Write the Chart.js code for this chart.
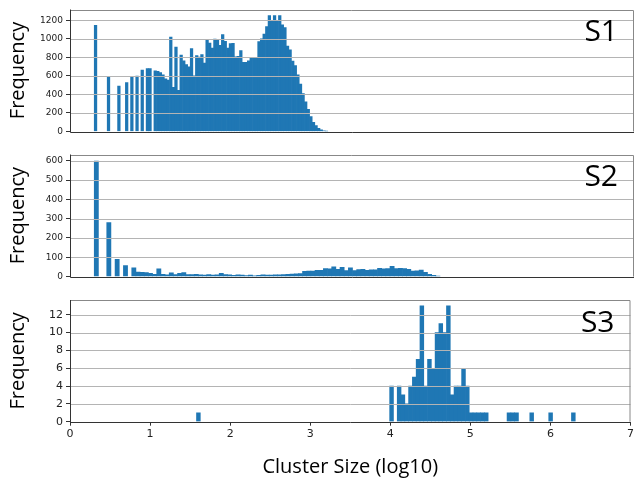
<!DOCTYPE html>
<html>
<head>
<meta charset="utf-8">
<script src="https://cdn.jsdelivr.net/npm/chart.js@4"></script>
<style>
  body { margin: 0; background: #fff; width: 636px; height: 481px; position: relative; overflow: hidden; }
  canvas { position: absolute; left: 0; }
</style>
</head>
<body>
<canvas id="c1" width="636" height="140" style="top:0px"></canvas>
<canvas id="c2" width="636" height="140" style="top:145px"></canvas>
<canvas id="c3" width="636" height="191" style="top:290px"></canvas>
<script>
// histogram bins (log10 cluster size), 100 bins per sample
const s1Start = 0.301, s1Width = 0.0322;
const s1Counts = [
  1145, 0, 0, 0, 0, 583, 0, 0, 0, 490,
  0, 0, 526, 0, 587, 0, 598, 0, 662, 0,
  677, 677, 0, 655, 648, 634, 612, 569, 554, 1019,
  475, 911, 443, 824, 763, 720, 698, 893, 601, 817,
  803, 828, 738, 994, 954, 900, 997, 983, 929, 1044,
  972, 900, 947, 950, 806, 810, 871, 745, 745, 763,
  800, 790, 790, 970, 1000, 1051, 1130, 1249, 1199, 1249,
  1199, 1249, 1150, 1120, 920, 880, 760, 710, 610, 510,
  410, 320, 240, 160, 100, 65, 35, 18, 8, 3,
  0, 0, 0, 0, 0, 0, 0, 0, 0, 0
];

const s2Start = 0.301, s2Width = 0.0517;
const s2Counts = [
  598, 0, 0, 279, 0, 90, 0, 57, 0, 45,
  24, 22, 21, 17, 12, 40, 12, 9, 19, 10,
  17, 21, 10, 10, 12, 9, 8, 10, 8, 9,
  17, 10, 9, 7, 9, 8, 5, 8, 4, 7,
  9, 8, 8, 9, 9, 10, 12, 13, 14, 15,
  27, 28, 28, 33, 33, 41, 40, 50, 38, 48,
  31, 45, 31, 36, 38, 33, 35, 35, 43, 40,
  41, 53, 41, 43, 42, 37, 29, 30, 34, 22,
  12, 6, 2, 0, 0, 0, 0, 0, 0, 0,
  0, 0, 0, 0, 0, 0, 0, 0, 0, 0
];

const s3Start = 1.58, s3Width = 0.0473;
const s3Counts = [
  1, 0, 0, 0, 0, 0, 0, 0, 0, 0,
  0, 0, 0, 0, 0, 0, 0, 0, 0, 0,
  0, 0, 0, 0, 0, 0, 0, 0, 0, 0,
  0, 0, 0, 0, 0, 0, 0, 0, 0, 0,
  0, 0, 0, 0, 0, 0, 0, 0, 0, 0,
  0, 4, 0, 4, 3, 2, 4, 5, 7, 13,
  4, 7, 6, 10, 11, 10, 13, 3, 4, 4,
  6, 4, 1, 1, 1, 1, 1, 0, 0, 0,
  0, 0, 1, 1, 1, 0, 0, 0, 1, 0,
  0, 0, 0, 1, 0, 0, 0, 0, 0, 1
];

const xTicks = [0, 1, 2, 3, 4, 5, 6, 7];
const y1Ticks = [0, 200, 400, 600, 800, 1000, 1200];
const y2Ticks = [0, 100, 200, 300, 400, 500, 600];
const y3Ticks = [0, 2, 4, 6, 8, 10, 12];

Chart.defaults.font.family = "'DejaVu Sans', sans-serif";
Chart.defaults.color = "#222";
Chart.defaults.animation = false;

// grid on top of bars, axes frame and panel label
const overlay = {
  id: "overlay",
  afterDatasetsDraw(chart, args, opts) {
    const ctx = chart.ctx;
    const a = chart.chartArea;
    const y = chart.scales.y;
    ctx.save();
    ctx.strokeStyle = "#b4b4b4";
    ctx.lineWidth = 1;
    y.ticks.forEach(t => {
      if (t.value === 0) return;
      const py = Math.round(y.getPixelForValue(t.value)) + 0.5;
      ctx.beginPath();
      ctx.moveTo(a.left, py);
      ctx.lineTo(a.right, py);
      ctx.stroke();
    });
    ctx.strokeStyle = "#888";
    ctx.beginPath();
    ctx.moveTo(a.left, Math.round(a.top) + 0.5);
    ctx.lineTo(a.right - 0.5, Math.round(a.top) + 0.5);
    ctx.lineTo(a.right - 0.5, a.bottom);
    ctx.stroke();
    ctx.strokeStyle = "#333";
    ctx.beginPath();
    ctx.moveTo(a.left + 0.5, a.top);
    ctx.lineTo(a.left + 0.5, Math.round(a.bottom) + 0.5);
    ctx.lineTo(a.right, Math.round(a.bottom) + 0.5);
    ctx.stroke();
    ctx.fillStyle = "#000";
    ctx.font = "30px 'Open Sans'";
    ctx.textAlign = "right";
    ctx.textBaseline = "alphabetic";
    ctx.fillText(opts.text, a.right - 16, a.top + 31.7);
    ctx.restore();
  }
};

function makePanel(id, label, start, width, counts, yMax, yTicks, opts) {
  // empty bins are left out of the drawing
  const points = counts.map((v, i) => ({ x: start + width * (i + 0.5), y: v === 0 ? null : v }));
  return new Chart(document.getElementById(id), {
    type: "bar",
    data: {
      datasets: [{
        data: points,
        backgroundColor: "#1f77b4",
        borderWidth: 0,
        barPercentage: 1,
        categoryPercentage: 1
      }]
    },
    options: {
      responsive: false,
      layout: { padding: { left: 0, right: 2, top: opts.top, bottom: 0 } },
      plugins: {
        legend: { display: false },
        tooltip: { enabled: false },
        overlay: { text: label }
      },
      scales: {
        x: {
          type: "linear",
          min: 0,
          max: 7,
          offset: false,
          afterBuildTicks: s => { s.ticks = xTicks.map(v => ({ value: v })); },
          afterFit: s => { s.height = opts.xHeight; },
          grid: { display: opts.showX, offset: false, drawOnChartArea: false, tickLength: 4, tickColor: "#333" },
          border: { display: false },
          ticks: { display: opts.showX, padding: 2, font: { size: 11 }, maxRotation: 0, callback: v => String(v) },
          title: {
            display: opts.showX,
            text: "Cluster Size (log10)",
            font: { family: "'Open Sans'", size: 20 },
            color: "#000",
            padding: { top: 0, bottom: 2 }
          }
        },
        y: {
          min: 0,
          max: yMax,
          afterBuildTicks: s => { s.ticks = yTicks.map(v => ({ value: v })); },
          afterFit: s => { s.width = 70; },
          grid: { drawOnChartArea: false, tickLength: 4, tickColor: "#333" },
          border: { display: false },
          ticks: { padding: 3, font: { size: opts.yFont }, callback: v => String(v) },
          title: {
            display: true,
            text: "Frequency",
            font: { family: "'Open Sans'", size: 20 },
            color: "#000",
            padding: { top: 6, bottom: 0 }
          }
        }
      }
    },
    plugins: [overlay]
  });
}

makePanel("c1", "S1", s1Start, s1Width, s1Counts, 1315, y1Ticks,
  { top: 9.5, xHeight: 8.5, showX: false, yFont: 9 });
makePanel("c2", "S2", s2Start, s2Width, s2Counts, 632, y2Ticks,
  { top: 9.5, xHeight: 8.3, showX: false, yFont: 9 });
makePanel("c3", "S3", s3Start, s3Width, s3Counts, 13.65, y3Ticks,
  { top: 10, xHeight: 59.3, showX: true, yFont: 11 });
</script>
</body>
</html>
